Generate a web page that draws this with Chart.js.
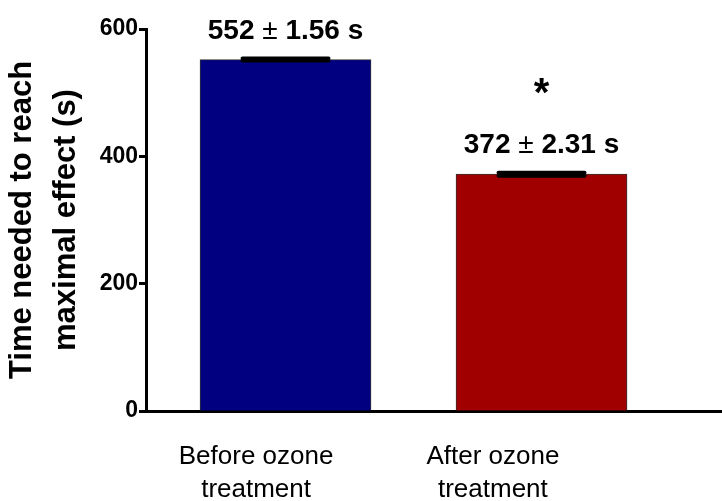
<!DOCTYPE html>
<html>
<head>
<meta charset="utf-8">
<script src="https://cdn.jsdelivr.net/npm/chart.js@4.4.1/dist/chart.umd.min.js"></script>
<style>
    html, body { margin: 0; padding: 0; background: #fff; }
    #wrap { width: 722px; height: 501px; }
</style>
</head>
<body>
<div id="wrap"><canvas id="bar-chart"></canvas></div>
<script>
// data
var categories = [['Before ozone', 'treatment'], ['After ozone', 'treatment']];
var groupPos = [0, 1];
var meanTime = [552, 372];
var semTime = [1.56, 2.31];
var signif = ['', '*'];
var yTicks = [0, 200, 400, 600];

var FONT = 'Arial, "Liberation Sans", sans-serif';

// mean +/- sem caps, value labels and significance star
var errorBars = {
    id: 'errorBars',
    afterDatasetsDraw: function (chart) {
        var ctx = chart.ctx;
        var yScale = chart.scales.y;
        var meta = chart.getDatasetMeta(0);
        ctx.save();
        meta.data.forEach(function (bar, i) {
            var top = yScale.getPixelForValue(meanTime[i] + semTime[i]);
            var bottom = yScale.getPixelForValue(meanTime[i] - semTime[i]);
            ctx.strokeStyle = '#000';
            ctx.lineWidth = 4;
            ctx.lineCap = 'round';
            ctx.beginPath();
            ctx.moveTo(bar.x - 43, top);
            ctx.lineTo(bar.x + 43, top);
            ctx.moveTo(bar.x - 43, bottom);
            ctx.lineTo(bar.x + 43, bottom);
            ctx.moveTo(bar.x, top);
            ctx.lineTo(bar.x, bottom);
            ctx.stroke();

            // "552 ± 1.56 s" with a lighter ±
            var left = meanTime[i] + ' ';
            var pm = '\u00b1';
            var right = ' ' + semTime[i].toFixed(2) + ' s';
            var bold = 'bold 28px ' + FONT;
            var norm = '28px ' + FONT;
            ctx.font = bold;
            var wl = ctx.measureText(left).width;
            var wr = ctx.measureText(right).width;
            ctx.font = norm;
            var wp = ctx.measureText(pm).width;
            var x0 = bar.x - (wl + wp + wr) / 2;
            var base = top - 20;
            ctx.fillStyle = '#000';
            ctx.textAlign = 'left';
            ctx.textBaseline = 'alphabetic';
            ctx.font = bold;
            ctx.fillText(left, x0, base);
            ctx.font = norm;
            ctx.fillText(pm, x0 + wl, base);
            ctx.font = bold;
            ctx.fillText(right, x0 + wl + wp, base);

            if (signif[i]) {
                ctx.textAlign = 'center';
                ctx.font = 'bold 40px ' + FONT;
                ctx.fillText(signif[i], bar.x, top - 67);
            }
        });
        ctx.restore();
    }
};

var labelPos = [-0.115, 0.81];

var ctx = document.getElementById('bar-chart');

new Chart(ctx, {
    type: 'bar',
    data: {
        datasets: [{
            data: groupPos.map(function (x, i) { return { x: x, y: meanTime[i] }; }),
            backgroundColor: ['#000080', '#a00000'],
            borderColor: '#333',
            borderWidth: 1,
            barThickness: 171
        }]
    },
    options: {
        responsive: true,
        maintainAspectRatio: false,
        animation: false,
        layout: { padding: { top: 29, right: 0, bottom: 0, left: 0 } },
        plugins: {
            legend: { display: false },
            tooltip: { enabled: false }
        },
        scales: {
            x: {
                type: 'linear',
                offset: false,
                min: -0.545,
                max: 1.705,
                afterBuildTicks: function (scale) {
                    scale.ticks = labelPos.map(function (v) { return { value: v }; });
                },
                afterFit: function (scale) { scale.height = 90; },
                ticks: {
                    callback: function (v, i) { return categories[i]; },
                    font: { family: FONT, size: 26, lineHeight: 1.29 },
                    color: '#000',
                    padding: 21,
                    maxRotation: 0,
                    autoSkip: false
                },
                grid: { display: false },
                border: { display: true, width: 3, color: '#000' }
            },
            y: {
                min: 0,
                max: 600,
                afterBuildTicks: function (scale) {
                    scale.ticks = yTicks.map(function (v) { return { value: v }; });
                },
                afterFit: function (scale) { scale.width = 146; },
                ticks: {
                    font: { family: FONT, size: 23, weight: 'bold' },
                    color: '#000',
                    padding: 1
                },
                grid: {
                    drawOnChartArea: false,
                    drawTicks: true,
                    tickLength: 7,
                    tickWidth: 3,
                    color: '#000'
                },
                border: { display: true, width: 3, color: '#000' },
                title: {
                    display: true,
                    text: ['Time needed to reach', 'maximal effect (s)'],
                    font: { family: FONT, size: 31, weight: 'bold', lineHeight: 1.4 },
                    color: '#000',
                    padding: { top: 1, bottom: 0 }
                }
            }
        }
    },
    plugins: [errorBars]
});
</script>
</body>
</html>
